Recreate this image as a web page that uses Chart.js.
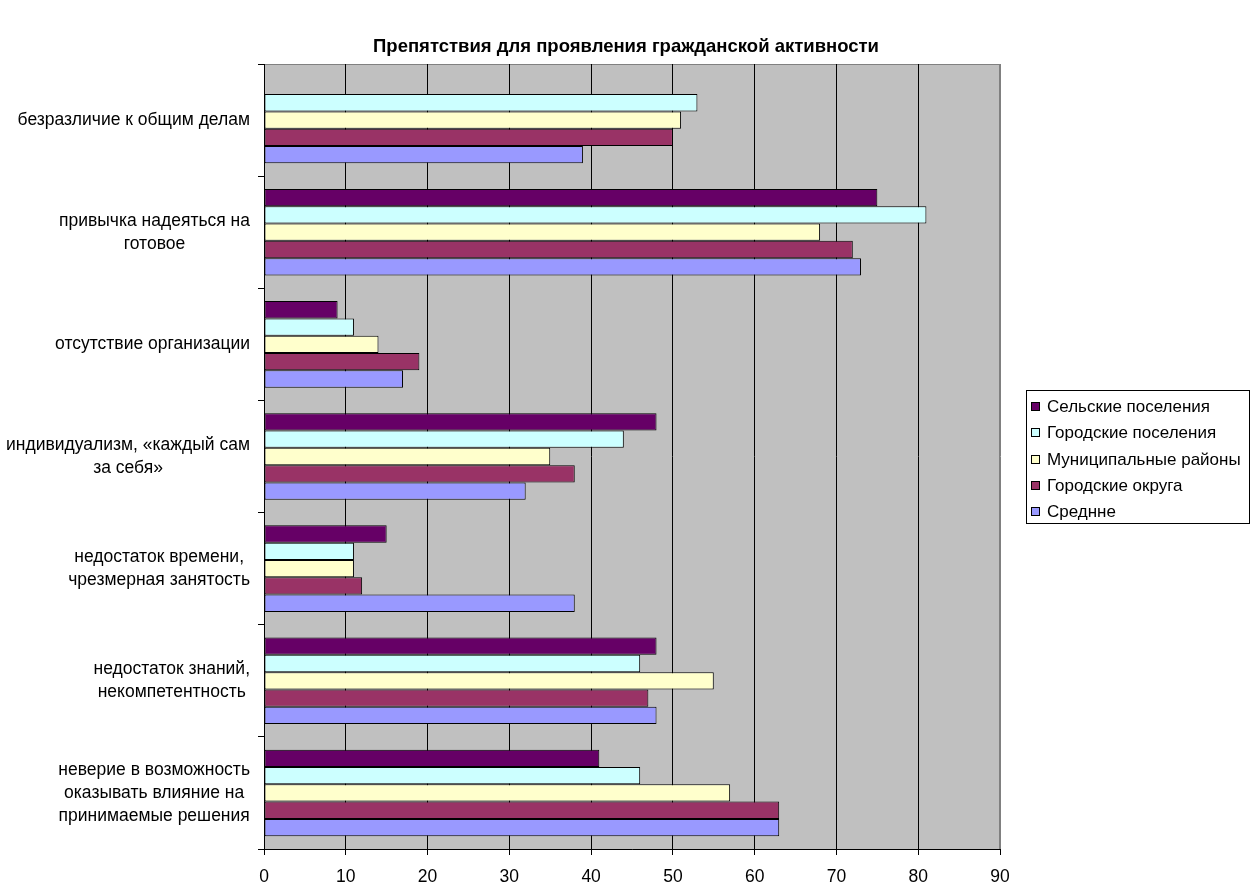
<!DOCTYPE html>
<html>
<head>
<meta charset="utf-8">
<script src="https://cdn.jsdelivr.net/npm/chart.js@4/dist/chart.umd.min.js"></script>
<style>
  body { margin: 0; background: #ffffff; }
  canvas { display: block; }
</style>
</head>
<body>
<canvas id="myChart" width="1252" height="886"></canvas>
<script>
const categories = [
    ['безразличие к общим делам'],
    ['привычка надеяться на', 'готовое'],
    ['отсутствие организации'],
    ['индивидуализм, «каждый сам', 'за себя»'],
    ['недостаток времени,', 'чрезмерная занятость'],
    ['недостаток знаний,', 'некомпетентность'],
    ['неверие в возможность', 'оказывать влияние на', 'принимаемые решения']
]
const seriesNames = ['Сельские поселения', 'Городские поселения', 'Муниципальные районы', 'Городские округа', 'Среднне']
const selskie = [null, 75, 9, 48, 15, 48, 41]
const gorodPos = [53, 81, 11, 44, 11, 46, 46]
const munRaiony = [51, 68, 14, 35, 11, 55, 57]
const gorodOkr = [50, 72, 19, 38, 12, 47, 63]
const srednee = [39, 73, 17, 32, 38, 48, 63]
const xTicks = [0, 10, 20, 30, 40, 50, 60, 70, 80, 90]

const colors = ['#660066', '#CCFFFF', '#FFFFCC', '#993366', '#9999FF']
const seriesData = [selskie, gorodPos, munRaiony, gorodOkr, srednee]

Chart.defaults.font.family = '"Liberation Sans", Arial, sans-serif'
Chart.defaults.color = '#000000'

const LABEL_FONT = '17.5px "Liberation Sans", Arial, sans-serif'
const LEGEND_FONT = '17px "Liberation Sans", Arial, sans-serif'

// заголовок по центру всего холста, а не области без легенды
const centerTitle = {
    id: 'centerTitle',
    afterLayout(chart) {
        const t = chart.titleBlock
        if (t) {
            t.left = 0
            t.right = chart.width
            t.width = chart.width
        }
    }
}

// серый фон области построения и рамка
const plotArea = {
    id: 'plotArea',
    beforeDraw(chart) {
        const { ctx, chartArea: a } = chart
        ctx.save()
        ctx.fillStyle = '#C0C0C0'
        ctx.fillRect(a.left, a.top, a.right - a.left, a.bottom - a.top)
        ctx.strokeStyle = '#808080'
        ctx.lineWidth = 1
        ctx.strokeRect(a.left + 0.5, a.top + 0.5, a.right - a.left - 1, a.bottom - a.top)
        ctx.restore()
    }
}

// подписи категорий: блок прижат вправо, строки по центру
const catLabels = {
    id: 'catLabels',
    afterDraw(chart) {
        const { ctx } = chart
        const y = chart.scales.y
        const right = y.right - 14
        const lh = 23
        ctx.save()
        ctx.font = LABEL_FONT
        ctx.fillStyle = '#000000'
        ctx.textAlign = 'center'
        ctx.textBaseline = 'middle'
        categories.forEach((lines, i) => {
            const w = Math.max(...lines.map(l => ctx.measureText(l).width))
            const cx = right - w / 2
            const cy = y.getPixelForValue(i)
            const y0 = cy - (lines.length - 1) * lh / 2
            lines.forEach((l, k) => ctx.fillText(l, cx, y0 + k * lh))
        })
        ctx.restore()
    }
}

// легенда в рамке справа
const boxLegend = {
    id: 'boxLegend',
    afterDraw(chart) {
        const { ctx } = chart
        const a = chart.chartArea
        const left = a.right + 26, top = 390, w = 223, h = 133
        ctx.save()
        ctx.fillStyle = '#ffffff'
        ctx.fillRect(left, top, w, h)
        ctx.strokeStyle = '#000000'
        ctx.lineWidth = 1
        ctx.strokeRect(left + 0.5, top + 0.5, w, h)
        ctx.font = LEGEND_FONT
        ctx.textBaseline = 'middle'
        chart.data.datasets.forEach((ds, i) => {
            const cy = top + 16.5 + i * 26.3
            const by = Math.round(cy - 4.5)
            ctx.fillStyle = ds.backgroundColor
            ctx.fillRect(left + 5, by, 9, 9)
            ctx.strokeStyle = '#000000'
            ctx.strokeRect(left + 5.5, by + 0.5, 8, 8)
            ctx.fillStyle = '#000000'
            ctx.fillText(ds.label, left + 21, cy + 1)
        })
        ctx.restore()
    }
}

const myChart = new Chart(document.getElementById('myChart'), {
    type: 'bar',
    data: {
        labels: categories,
        datasets: seriesNames.map((name, i) => ({
            label: name,
            data: seriesData[i],
            backgroundColor: colors[i],
            borderColor: '#000000',
            borderWidth: 1,
            borderSkipped: false,
            categoryPercentage: 0.772,
            barPercentage: 1.0
        }))
    },
    options: {
        indexAxis: 'y',
        responsive: false,
        animation: false,
        layout: {
            padding: { left: 0, right: 252, top: 0, bottom: 0 }
        },
        plugins: {
            legend: { display: false },
            tooltip: { enabled: false },
            title: {
                display: true,
                text: 'Препятствия для проявления гражданской активности',
                color: '#000000',
                font: { size: 18.5, weight: 'bold' },
                padding: { top: 36, bottom: 5.8 }
            }
        },
        scales: {
            x: {
                min: 0,
                max: 90,
                afterBuildTicks: (scale) => { scale.ticks = xTicks.map(v => ({ value: v })) },
                afterFit: (scale) => { scale.height = 37 },
                ticks: {
                    font: { size: 17.5 },
                    color: '#000000',
                    padding: 12
                },
                grid: {
                    color: (c) => c.tick && c.tick.value === 90 ? '#808080' : '#000000',
                    tickColor: '#000000',
                    tickLength: 6
                },
                border: { color: '#000000' }
            },
            y: {
                offset: true,
                afterFit: (scale) => { scale.width = 264 },
                ticks: { display: false },
                grid: {
                    offset: true,
                    drawOnChartArea: false,
                    tickLength: 6,
                    color: '#000000'
                },
                border: { color: '#000000' }
            }
        }
    },
    plugins: [centerTitle, plotArea, catLabels, boxLegend]
})
</script>
</body>
</html>
